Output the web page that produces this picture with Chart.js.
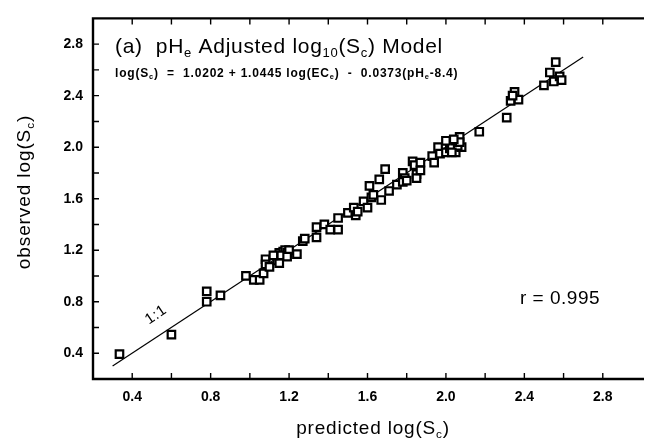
<!DOCTYPE html>
<html>
<head>
<meta charset="utf-8">
<script src="https://cdn.jsdelivr.net/npm/chart.js@4/dist/chart.umd.min.js"></script>
<style>
  html, body { margin: 0; padding: 0; background: #fff; overflow: hidden; }
  #wrap { width: 652px; height: 439px; position: relative; }
</style>
</head>
<body>
<div id="wrap"><canvas id="c" width="652" height="439"></canvas></div>
<script>
// ---- data ----
const predicted = [0.335,0.60,0.78,0.78,0.85,0.98,1.02,1.05,1.07,1.08,1.08,1.10,1.14,1.15,1.15,1.17,1.18,1.19,1.16,1.20,
  1.24,1.27,1.28,1.34,1.34,1.38,1.41,1.45,1.45,1.50,1.53,1.54,1.55,1.58,1.60,1.61,1.62,1.63,1.66,1.67,
  1.69,1.71,1.75,1.78,1.79,1.78,1.80,1.83,1.84,1.85,1.85,1.87,1.87,1.93,1.94,1.96,1.97,2.00,2.01,2.02,
  2.05,2.03,2.05,2.07,2.08,2.06,2.03,2.07,2.17,2.31,2.33,2.35,2.37,2.34,2.50,2.53,2.56,2.55,2.58,2.59,
  1.19,1.12,2.00,2.04];
const observed = [0.393,0.545,0.88,0.80,0.85,1.00,0.97,0.97,1.02,1.13,1.09,1.07,1.12,1.10,1.18,1.19,1.20,1.18,1.16,1.20,
  1.17,1.27,1.29,1.38,1.30,1.40,1.36,1.36,1.45,1.49,1.53,1.47,1.50,1.58,1.53,1.70,1.61,1.63,1.75,1.59,
  1.83,1.66,1.71,1.80,1.76,1.73,1.74,1.89,1.86,1.79,1.76,1.88,1.82,1.93,1.88,2.00,1.95,1.96,2.05,1.99,
  1.96,2.00,2.05,2.08,2.00,2.01,1.96,2.04,2.12,2.23,2.36,2.43,2.37,2.40,2.48,2.58,2.66,2.51,2.55,2.52,
  1.15,1.16,2.05,2.06];
const lineX = [0.30, 2.70];
const lineY = [0.30, 2.70];
const xTickLabels = ['0.4','0.8','1.2','1.6','2.0','2.4','2.8'];
const yTickLabels = ['0.4','0.8','1.2','1.6','2.0','2.4','2.8'];
const titleParts = [['(a)  pH',0],['e',1],[' Adjusted log',0],['10',1],['(S',0],['c',1],[') Model',0]];
const eqParts = [['log(S',0],['c',1],[')  =  1.0202 + 1.0445 log(EC',0],['e',1],[')  -  0.0373(pH',0],['e',1],['-8.4)',0]];
const xTitleParts = [['predicted log(S',0],['c',1],[')',0]];
const yTitleParts = [['observed log(S',0],['c',1],[')',0]];
const rText = 'r = 0.995';
const oneToOne = '1:1';

const FONT = '"Liberation Sans", Arial, Helvetica, sans-serif';

function richWidth(ctx, parts, size, weight, spacing) {
  let w = 0;
  for (const [t, sub] of parts) {
    ctx.font = weight + ' ' + (sub ? size * 0.62 : size) + 'px ' + FONT;
    ctx.letterSpacing = (spacing || 0) + 'px';
    w += ctx.measureText(t).width;
  }
  return w;
}
function drawRich(ctx, x, y, parts, size, weight, align, spacing) {
  const w = richWidth(ctx, parts, size, weight, spacing);
  let cx = align === 'center' ? x - w / 2 : x;
  ctx.textBaseline = 'alphabetic';
  ctx.textAlign = 'left';
  for (const [t, sub] of parts) {
    ctx.font = weight + ' ' + (sub ? size * 0.62 : size) + 'px ' + FONT;
    ctx.letterSpacing = (spacing || 0) + 'px';
    ctx.fillText(t, cx, sub ? y + size * 0.2 : y);
    cx += ctx.measureText(t).width;
  }
  ctx.letterSpacing = '0px';
}

const isLabelTick = (v, labels) => labels.includes(v.toFixed(1)) && Math.abs(v * 5 - Math.round(v * 5)) < 1e-6;

const decor = {
  id: 'decor',
  afterDatasetsDraw(chart) {
    const ctx = chart.ctx;
    const a = chart.chartArea;
    const xs = chart.scales.x, ys = chart.scales.y;
    ctx.save();
    ctx.strokeStyle = '#000';
    ctx.fillStyle = '#000';
    // frame (left, top, bottom; right side lies outside picture)
    ctx.lineWidth = 2.4;
    ctx.beginPath();
    ctx.moveTo(a.right + 2, a.top);
    ctx.lineTo(a.left, a.top);
    ctx.lineTo(a.left, a.bottom);
    ctx.lineTo(a.right + 2, a.bottom);
    ctx.stroke();
    // inward ticks every 0.2
    ctx.lineWidth = 1.4;
    ctx.beginPath();
    for (let i = 2; i <= 14; i++) {
      const v = i / 5;
      const px = xs.getPixelForValue(v);
      ctx.moveTo(px, a.bottom); ctx.lineTo(px, a.bottom - 6);
      ctx.moveTo(px, a.top); ctx.lineTo(px, a.top + 6);
      const py = ys.getPixelForValue(v);
      ctx.moveTo(a.left, py); ctx.lineTo(a.left + 6, py);
    }
    ctx.stroke();
    // texts
    drawRich(ctx, 115, 53, titleParts, 21, 'normal', 'left', 0.7);
    drawRich(ctx, 115, 77, eqParts, 12, 'bold', 'left', 0.8);
    drawRich(ctx, 373, 434, xTitleParts, 19, 'normal', 'center', 0.8);
    ctx.save();
    ctx.translate(30, 192);
    ctx.rotate(-Math.PI / 2);
    drawRich(ctx, 0, 0, yTitleParts, 19, 'normal', 'center', 0.9);
    ctx.restore();
    ctx.font = 'normal 19px ' + FONT;
    ctx.letterSpacing = '0.5px';
    ctx.textAlign = 'left';
    ctx.textBaseline = 'alphabetic';
    ctx.fillText(rText, 520, 304);
    ctx.save();
    ctx.translate(156, 315);
    ctx.rotate(-0.6);
    ctx.font = 'normal 15px ' + FONT;
    ctx.textAlign = 'center';
    ctx.textBaseline = 'middle';
    ctx.fillText(oneToOne, 0, 0);
    ctx.restore();
    ctx.letterSpacing = '0px';
    ctx.restore();
  }
};

new Chart(document.getElementById('c'), {
  type: 'scatter',
  data: {
    datasets: [
      {
        data: predicted.map((x, i) => ({ x, y: observed[i] })),
        pointStyle: 'rect',
        pointRadius: 5.3,
        pointHoverRadius: 5.3,
        borderColor: '#000',
        backgroundColor: '#fff',
        borderWidth: 2.2
      },
      {
        type: 'line',
        data: lineX.map((x, i) => ({ x, y: lineY[i] })),
        borderColor: '#000',
        borderWidth: 1.2,
        pointRadius: 0,
        fill: false,
        showLine: true
      }
    ]
  },
  options: {
    responsive: false,
    animation: false,
    events: [],
    layout: { padding: { top: 12, left: 0, right: 0, bottom: 0 } },
    plugins: { legend: { display: false }, tooltip: { enabled: false }, title: { display: false } },
    scales: {
      x: {
        type: 'linear', min: 0.2, max: 3.0,
        afterFit: s => { s.height = 60; },
        grid: { display: false, drawTicks: false },
        border: { display: false },
        ticks: {
          stepSize: 0.2, autoSkip: false, maxRotation: 0, padding: 10,
          color: '#000', font: { family: FONT, size: 14, weight: 'bold' },
          callback: v => isLabelTick(v, xTickLabels) ? v.toFixed(1) : ''
        }
      },
      y: {
        type: 'linear', min: 0.2, max: 3.0,
        afterFit: s => { s.width = 93; },
        grid: { display: false, drawTicks: false },
        border: { display: false },
        ticks: {
          stepSize: 0.2, autoSkip: false, padding: 10,
          color: '#000', font: { family: FONT, size: 14, weight: 'bold' },
          callback: v => isLabelTick(v, yTickLabels) ? v.toFixed(1) : ''
        }
      }
    }
  },
  plugins: [decor]
});
</script>
</body>
</html>
